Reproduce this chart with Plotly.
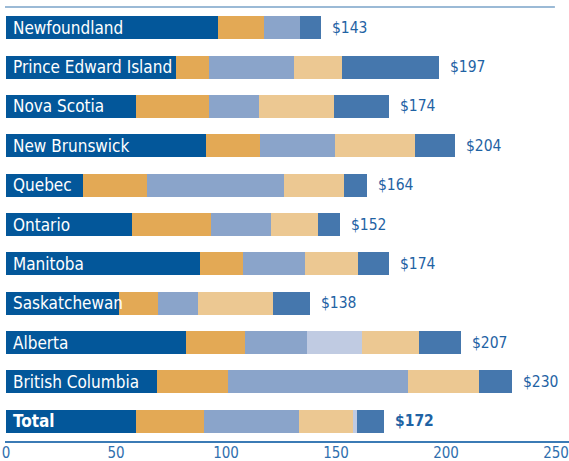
import plotly.graph_objects as go

# Provinces, top to bottom, with the overall total last
provinces = ["Newfoundland", "Prince Edward Island", "Nova Scotia", "New Brunswick",
             "Quebec", "Ontario", "Manitoba", "Saskatchewan", "Alberta",
             "British Columbia", "Total"]

# Per-capita totals ($) printed after each bar
totals = [143, 197, 174, 204, 164, 152, 174, 138, 207, 230, 172]

# Stacked components, in drawing order (left to right)
comp_1 = [96.5, 77.2, 59.1, 90.9, 35.1, 57.1, 88.1, 51.2, 82.0, 68.5, 58.9]
comp_2 = [20.8, 15.1, 33.0, 24.4, 28.9, 35.9, 19.6, 17.8, 26.6, 32.2, 31.0]
comp_3 = [16.4, 38.4, 23.1, 34.2, 62.4, 27.4, 28.0, 18.3, 28.4, 81.9, 43.1]
comp_4a = [0, 0, 0, 0, 0, 0, 0, 0, 24.7, 0, 0]
comp_5 = [0, 21.8, 34.0, 36.3, 27.2, 21.3, 24.5, 34.2, 26.2, 32.2, 24.8]
comp_4b = [0, 0, 0, 0, 0, 0, 0, 0, 0, 0, 1.7]
comp_6 = [9.3, 44.5, 24.8, 18.2, 10.4, 10.3, 13.8, 16.5, 19.1, 15.2, 12.5]

x_ticks = [0, 50, 100, 150, 200, 250]

DARK = "#03579a"
ORANGE = "#e3a955"
STEEL = "#8aa4ca"
PALE = "#c0cbe2"
TAN = "#ecc892"
MID = "#4577ad"
TEXT_BLUE = "#1f63a4"

COND = "DejaVu Sans Condensed, Liberation Sans Narrow, Roboto, sans-serif"

series = [
    (comp_1, DARK), (comp_2, ORANGE), (comp_3, STEEL), (comp_4a, PALE),
    (comp_5, TAN), (comp_4b, PALE), (comp_6, MID),
]

fig = go.Figure()
for vals, col in series:
    fig.add_trace(go.Bar(
        y=provinces, x=vals, orientation="h",
        marker=dict(color=col, line=dict(width=0)),
        width=0.585, hoverinfo="skip", showlegend=False,
    ))

annotations = []
for name, tot in zip(provinces, totals):
    bold = name == "Total"
    # province name, white, over the left end of the bar
    annotations.append(dict(
        x=0, y=name, xref="x", yref="y", xanchor="left", yanchor="middle",
        xshift=5, showarrow=False,
        text=f"<b>{name}</b>" if bold else name,
        font=dict(family=COND, size=17, color="white"),
    ))
    # dollar value after the bar end
    annotations.append(dict(
        x=tot, y=name, xref="x", yref="y", xanchor="left", yanchor="middle",
        xshift=9, showarrow=False,
        text=f"<b>${tot}</b>" if bold else f"${tot}",
        font=dict(family=COND, size=15.5, color=TEXT_BLUE),
    ))

fig.update_layout(
    template="none",
    width=569, height=461,
    margin=dict(l=5, r=0, t=8, b=20, pad=0),
    paper_bgcolor="white", plot_bgcolor="white",
    barmode="stack", bargap=0,
    annotations=annotations,
    shapes=[dict(type="line", xref="paper", yref="paper",
                 x0=0, x1=0.975, y0=1.0023, y1=1.0023,
                 line=dict(color="#7aa3c9", width=1.5))],
    xaxis=dict(
        range=[-0.45, 255.9], tickvals=x_ticks, ticktext=[str(t) for t in x_ticks],
        showgrid=False, zeroline=False, showline=True, automargin=False,
        linecolor="#3b7bb5", linewidth=1.5, ticks="",
        ticklabelstandoff=-3,
        tickfont=dict(family=COND, size=15, color="#2f6fae"),
        fixedrange=True,
    ),
    yaxis=dict(
        autorange="reversed", showticklabels=False, showgrid=False,
        zeroline=False, showline=False, ticks="", fixedrange=True,
        automargin=False,
    ),
)

fig.write_html("out.html")
